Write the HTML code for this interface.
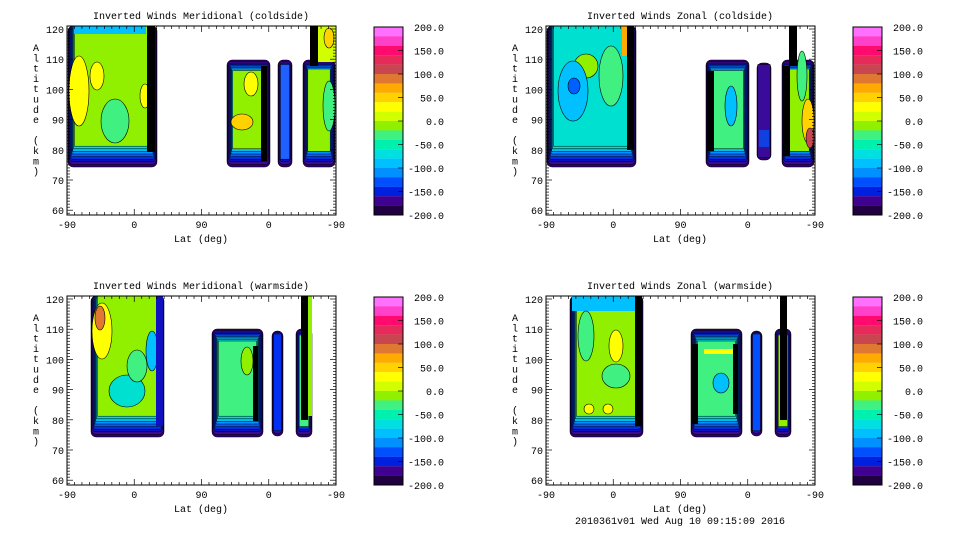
<!DOCTYPE html>
<html><head><meta charset="utf-8">
<style>
html,body{margin:0;padding:0;background:#fff;}
svg{display:block;font-family:"Liberation Mono",monospace;font-size:10px;}
</style></head>
<body>
<svg id="s" width="960" height="540" xmlns="http://www.w3.org/2000/svg"></svg>
<script>
const S=document.getElementById('s');
let out='';
const cb=['#ff70ff','#ff40c8','#ff0a6e','#e62a5a','#c84650','#e07832','#ffaa00','#ffd200','#ffff00','#d2ff00','#90f000','#40f080','#00f0b0','#00e0e0','#00c0ff','#0090ff','#0050ff','#0020e0','#400090','#200040'];
const edge=['#300070','#3a0a9a','#1010c0','#0030f0','#0060ff','#0090ff','#00c0f0','#00e0d0','#30f0a0'];
function region(ox,oy,r){
  let {x0,y0,x1,y1,top,fill,n}=r;
  n=n||7;
  for(let i=0;i<n;i++){
    const c=edge[i];
    const d=i*0.8, dt=i*1.5, db=i*2.6;
    const yy=top?y0:y0+dt;
    out+=`<rect x="${ox+x0+d}" y="${oy+yy}" width="${x1-x0-2*d}" height="${y1-yy-db}" rx="${Math.max(0,5-i)}" fill="${c}" stroke="#000" stroke-width="0.5"/>`;
  }
  const d=n*0.8, dt=n*1.5, db=n*2.6, yy=top?y0:y0+dt;
  out+=`<rect x="${ox+x0+d}" y="${oy+yy}" width="${x1-x0-2*d}" height="${y1-yy-db}" fill="${fill}" stroke="#000" stroke-width="0.5"/>`;
}
function blob(ox,oy,cx,cy,rx,ry,c){out+=`<ellipse cx="${ox+cx}" cy="${oy+cy}" rx="${rx}" ry="${ry}" fill="${c}" stroke="#000" stroke-width="0.6"/>`;}
function rect(ox,oy,x,y,w,h,c){out+=`<rect x="${ox+x}" y="${oy+y}" width="${w}" height="${h}" fill="${c}"/>`;}
function panel(ox,oy,title,body){
  const W=269,H=189;
  out+=`<text x="${ox+134}" y="${oy-7}" text-anchor="middle">${title}</text>`;
  body(ox,oy);
  out+=`<rect x="${ox}" y="${oy}" width="${W}" height="${H}" fill="none" stroke="#000" stroke-width="1"/>`;
  for(let k=59;k<=121;k++){
    const y=oy+3+(120-k)*3.02;
    if(y<oy||y>oy+H)continue;
    const L=(k%10==0)?6:3;
    out+=`<line x1="${ox}" x2="${ox+L}" y1="${y}" y2="${y}" stroke="#000" stroke-width="0.7"/>`;
    out+=`<line x1="${ox+W}" x2="${ox+W-L}" y1="${y}" y2="${y}" stroke="#000" stroke-width="0.7"/>`;
    if(k%10==0&&k>=60)out+=`<text x="${ox-3}" y="${y+4}" text-anchor="end">${k}</text>`;
  }
  const xl=['-90','0','90','0','-90'];
  for(let i=0;i<=36;i++){
    const x=ox+i*W/36;const L=(i%9==0)?6:3;
    out+=`<line x1="${x}" x2="${x}" y1="${oy+H}" y2="${oy+H-L}" stroke="#000" stroke-width="0.7"/>`;
    out+=`<line x1="${x}" x2="${x}" y1="${oy}" y2="${oy+L}" stroke="#000" stroke-width="0.7"/>`;
    if(i%9==0)out+=`<text x="${x}" y="${oy+H+13}" text-anchor="middle">${xl[i/9]}</text>`;
  }
  out+=`<text x="${ox+134}" y="${oy+H+27}" text-anchor="middle">Lat (deg)</text>`;
  const lab='Altitude (km)';
  for(let i=0;i<lab.length;i++)out+=`<text x="${ox-31}" y="${oy+25+i*10.3}" text-anchor="middle">${lab[i]}</text>`;
  const cx=ox+307;
  for(let i=0;i<20;i++)out+=`<rect x="${cx}" y="${oy+1+i*9.4}" width="29" height="9.5" fill="${cb[i]}"/>`;
  out+=`<rect x="${cx}" y="${oy+1}" width="29" height="188" fill="none" stroke="#000" stroke-width="1"/>`;
  for(let i=0;i<9;i++){const y=oy+1+i*23.5;const v=(200-50*i).toFixed(1);
    if(i>0&&i<8)out+=`<line x1="${cx+24}" x2="${cx+29}" y1="${y}" y2="${y}" stroke="#000" stroke-width="0.7"/>`;
    out+=`<text x="${cx+70}" y="${y+4}" text-anchor="end">${v}</text>`;}
}
const G='#90f000',T='#40f080',Y='#ffff00',Yg='#d2ff00',C='#00e0d0';
panel(67,26,'Inverted Winds Meridional (coldside)',(ox,oy)=>{
  region(ox,oy,{x0:1,y0:0,x1:90,y1:141,top:true,fill:G,n:8});
  rect(ox,oy,7,0,72,8,'#00c0ff');
  blob(ox,oy,12,65,10,35,Y);blob(ox,oy,30,50,7,14,Y);blob(ox,oy,48,95,14,22,T);blob(ox,oy,78,70,5,12,Y);
  rect(ox,oy,80,0,8,126,'#000');
  region(ox,oy,{x0:160,y0:34,x1:203,y1:141,fill:G,n:7});
  blob(ox,oy,175,96,11,8,'#ffd200');blob(ox,oy,184,58,7,12,Y);rect(ox,oy,194,40,6,95,'#000');
  region(ox,oy,{x0:211,y0:34,x1:225,y1:141,fill:'#2060ff',n:3});
  region(ox,oy,{x0:236,y0:34,x1:268,y1:141,fill:G,n:6});
  rect(ox,oy,243,0,25,36,Yg);rect(ox,oy,243,0,8,40,'#000');blob(ox,oy,262,80,6,25,T);blob(ox,oy,262,12,5,10,'#ffd200');
});
panel(546,26,'Inverted Winds Zonal (coldside)',(ox,oy)=>{
  region(ox,oy,{x0:1,y0:0,x1:90,y1:141,top:true,fill:C,n:8});
  blob(ox,oy,40,40,12,12,G);blob(ox,oy,27,65,15,30,'#00c0ff');blob(ox,oy,28,60,6,8,'#0060ff');blob(ox,oy,65,50,12,30,T);
  rect(ox,oy,76,0,5,30,'#ffaa00');rect(ox,oy,81,0,7,124,'#000');
  region(ox,oy,{x0:160,y0:34,x1:203,y1:141,fill:T,n:7});
  blob(ox,oy,185,80,6,20,'#00c0ff');rect(ox,oy,161,45,7,80,'#000');
  region(ox,oy,{x0:211,y0:37,x1:225,y1:134,fill:'#3a0a9a',n:1});rect(ox,oy,213,104,10,17,'#1040e0');
  region(ox,oy,{x0:236,y0:34,x1:268,y1:141,fill:G,n:6});
  rect(ox,oy,243,0,8,40,'#000');rect(ox,oy,237,40,7,90,'#000');blob(ox,oy,262,95,6,22,'#ffd200');blob(ox,oy,264,112,4,10,'#c84650');blob(ox,oy,256,50,5,25,T);
});
panel(67,296,'Inverted Winds Meridional (warmside)',(ox,oy)=>{
  region(ox,oy,{x0:24,y0:0,x1:97,y1:141,top:true,fill:G,n:8});
  blob(ox,oy,35,35,10,28,Y);blob(ox,oy,33,22,5,12,'#e07832');blob(ox,oy,60,95,18,16,C);blob(ox,oy,85,55,6,20,'#00c0ff');blob(ox,oy,70,70,10,16,T);
  rect(ox,oy,89,0,7,130,'#1010c0');
  region(ox,oy,{x0:145,y0:33,x1:196,y1:141,fill:T,n:8});
  blob(ox,oy,180,65,6,14,G);rect(ox,oy,186,50,5,75,'#000');
  region(ox,oy,{x0:205,y0:35,x1:216,y1:140,fill:'#0030f0',n:2});
  region(ox,oy,{x0:229,y0:33,x1:245,y1:141,fill:T,n:4});
  rect(ox,oy,234,0,7,124,'#000');rect(ox,oy,241,0,4,120,G);
});
panel(546,296,'Inverted Winds Zonal (warmside)',(ox,oy)=>{
  region(ox,oy,{x0:24,y0:0,x1:97,y1:141,top:true,fill:G,n:8});
  rect(ox,oy,26,0,64,15,'#00c0ff');blob(ox,oy,40,40,8,25,T);blob(ox,oy,70,80,14,12,T);blob(ox,oy,70,50,7,16,Y);
  blob(ox,oy,43,113,5,5,Y);blob(ox,oy,62,113,5,5,Y);rect(ox,oy,89,0,7,130,'#000');
  region(ox,oy,{x0:145,y0:33,x1:196,y1:141,fill:T,n:8});
  rect(ox,oy,158,53,30,5,Y);blob(ox,oy,175,87,8,10,'#00c0ff');rect(ox,oy,146,48,6,80,'#000');rect(ox,oy,187,48,5,70,'#000');
  region(ox,oy,{x0:205,y0:35,x1:216,y1:140,fill:'#0050ff',n:2});
  region(ox,oy,{x0:229,y0:33,x1:245,y1:141,fill:G,n:4});
  rect(ox,oy,234,0,7,124,'#000');
});
out+=`<text x="680" y="524" text-anchor="middle">2010361v01 Wed Aug 10 09:15:09 2016</text>`;
S.innerHTML=out;
</script>
</body></html>
